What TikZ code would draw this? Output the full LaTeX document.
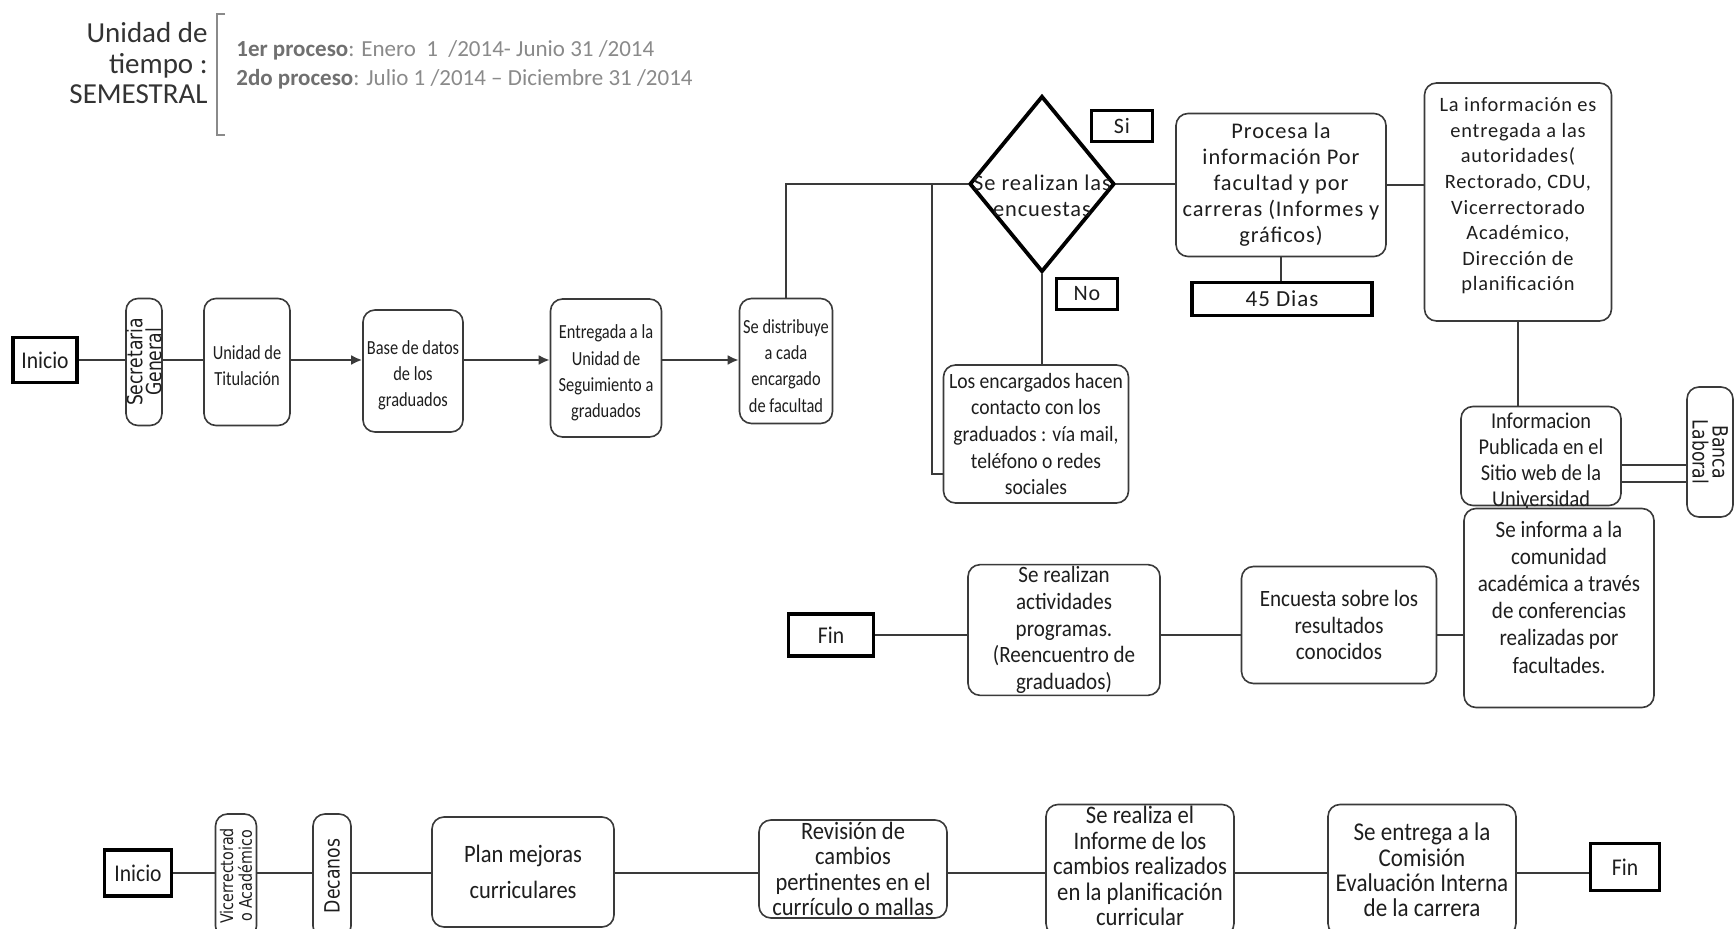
\documentclass[tikz,border=0pt]{standalone}
\usepackage{fontspec}
\setmainfont{Carlito}
\newfontfamily\cf[FakeStretch=0.9]{Carlito}
\newfontfamily\nf[FakeStretch=0.82]{Carlito}
\newfontfamily\wf[LetterSpace=4]{Carlito}
\newfontfamily\dvc[FakeStretch=0.82]{DejaVu Sans}
\usetikzlibrary{shapes.geometric,arrows.meta}
\definecolor{bc}{HTML}{3A3A3A}
\definecolor{tc}{HTML}{1E1E1E}
\definecolor{gc}{HTML}{8A8A8A}
\definecolor{gd}{HTML}{707070}
\definecolor{hc}{HTML}{333333}
\begin{document}
\begin{tikzpicture}[x=0.5pt,y=-0.5pt,
  rb/.style={draw=bc, line width=0.8pt, rounded corners=6pt, align=center, inner sep=1pt, text=tc},
  tb/.style={draw=black, line width=1.9pt, align=center, inner sep=1pt, text=tc},
  wh/.style 2 args={minimum width=#1*0.5pt, minimum height=#2*0.5pt},
  ln/.style={draw=bc, line width=0.8pt},
  ar/.style={draw=bc, line width=1.1pt, -{Latex[length=5.5pt,width=5pt]}},
  ftc/.style={font=\cf\fontsize{#1}{13.3}\selectfont},
  ftw/.style={font=\wf\fontsize{#1}{13}\selectfont},
  txt/.style={align=center, text=tc, inner sep=0},
  hd/.style={text=hc, inner sep=0, font=\fontsize{14.5}{16}\selectfont, anchor=base east},
  pr/.style={text=gc, inner sep=0, font=\fontsize{11.5}{14}\selectfont, anchor=base west},
  r1/.style={font=\nf\fontsize{10}{13.1}\selectfont},
]
\fill[white] (0,0) rectangle (1735,929);
\useasboundingbox (0,0) rectangle (1735,929);

% ---------- header ----------
\node[hd] (u1) at (208,43) {Unidad de};
\node[hd] (u2) at (208,74) {tiempo :};
\node[hd] (u3) at (208,104) {SEMESTRAL};
\draw[gc, line width=0.8pt] (225,14) -- (217,14) -- (217,135) -- (225,135);
\node[pr] (p1) at (236,57) {\textcolor{gd}{\textbf{1er proceso}}: Enero\ \ 1\ \ /2014- Junio 31 /2014};
\node[pr] (p2) at (236,86) {\textcolor{gd}{\textbf{2do proceso}}: Julio 1 /2014 – Diciembre 31 /2014};

% ---------- row 1 ----------
\node[tb, wh={64}{45}, ftc=12] (ini1) at (45,360) {Inicio};
\node[rb, rotate=90, wh={127}{36}, font=\dvc\fontsize{10.5}{9.5}\selectfont, inner sep=0] (sec) at (144,362) {Secretaria\\General};
\node[rb, wh={86}{127}] (uni) at (247,362) {};
\node[txt, r1] (unit) at (247,366) {Unidad de\\Titulación};
\node[rb, wh={100}{122}] (base) at (413,371) {};
\node[txt, r1] (baset) at (413,375) {Base de datos\\de los\\graduados};
\node[rb, wh={111}{138}] (ent) at (606,368) {};
\node[txt, r1] (entt) at (606,373) {Entregada a la\\Unidad de\\Seguimiento a\\graduados};
\node[rb, wh={93}{125}] (dist) at (786,361) {};
\node[txt, r1] (distt) at (786,366) {Se distribuye\\a cada\\encargado\\de facultad};

\draw[ln] (ini1.east) -- (ini1.east -| sec.north);
\draw[ln] (sec.south |- ini1.east) -- (ini1.east -| uni.west);
\draw[ar] (uni.east |- ini1.east) -- (ini1.east -| base.west);
\draw[ar] (base.east |- ini1.east) -- (ini1.east -| ent.west);
\draw[ar] (ent.east |- ini1.east) -- (ini1.east -| dist.west);

% decision
\node[diamond, draw=black, line width=1.9pt, inner sep=0, wh={145}{176}] (dec) at (1042,184) {};
\node[txt, ftw=11.2] (dect) at (1042,196) {Se realizan las\\encuestas};
\node[tb, wh={61}{31}, ftw=11] (si) at (1122,126) {Si};
\node[tb, wh={61}{31}, ftw=11] (no) at (1087,294) {No};
\coordinate (j) at (932,184);
\draw[ln] (dist.north) -- (dist.north |- dec.west) -- (dec.west);

\node[rb, wh={185}{138}, ftc=10.9] (enc) at (1036,434) {Los encargados hacen\\contacto con los\\graduados : vía mail,\\teléfono o redes\\sociales};
\draw[ln] (j) |- ([yshift=-20pt]enc.west);
\draw[ln] (dec.south) -- (dec.south |- enc.north);

\node[rb, wh={210}{143}, ftw=11.2] (pro) at (1281,185) {Procesa la\\información Por\\facultad y por\\carreras (Informes y\\gráficos)};
\draw[ln] (dec.east) -- (dec.east -| pro.west);
\node[tb, wh={180}{33}, ftw=11.5] (d45) at (1282,299) {45 Dias};
\draw[ln] (pro.south) -- (pro.south |- d45.north);

\node[rb, wh={187}{238}] (inf) at (1518,202) {};
\node[txt, font=\wf\fontsize{10.2}{12.8}\selectfont] (inft) at (1518,196) {La información es\\entregada a las\\autoridades(\\Rectorado, CDU,\\Vicerrectorado\\Académico,\\Dirección de\\planificación};
\draw[ln] (pro.east) -- (pro.east -| inf.west);

\node[rb, wh={160}{99}] (pub) at (1541,456) {};
\node[txt, font=\cf\fontsize{11.3}{12.9}\selectfont] (pubt) at (1541,460) {Informacion\\Publicada en el\\Sitio web de la\\Universidad};
\draw[ln] (inf.south) -- (inf.south |- pub.north);
\node[rb, rotate=-90, wh={130}{46}, font=\dvc\fontsize{10.5}{10}\selectfont, inner sep=0] (ban) at (1710,452) {Banca\\Laboral};
\draw[ln] ([yshift=-4.5pt]pub.east) -- ([yshift=-4.5pt]pub.east -| ban.south);
\draw[ln] ([yshift=-13pt]pub.east) -- ([yshift=-13pt]pub.east -| ban.south);

\node[rb, wh={190}{199}] (sei) at (1559,608) {};
\node[txt, font=\cf\fontsize{11.7}{13.6}\selectfont] (seit) at (1559,597) {Se informa a la\\comunidad\\académica a través\\de conferencias\\realizadas por\\facultades.};
\draw[ln] ([xshift=-7pt]pub.south) -- ([xshift=-7pt]pub.south |- sei.north);
\node[rb, wh={195}{117}, ftc=11.7] (encu) at (1339,625) {Encuesta sobre los\\resultados\\conocidos};
\node[rb, wh={192}{127}, ftc=11.7] (act) at (1064,630) {Se realizan\\actividades\\programas.\\(Reencuentro de\\graduados)};
\node[tb, wh={85}{42}, ftc=12] (fin1) at (831,635) {Fin};
\draw[ln] (sei.west |- fin1.east) -- (fin1.east -| encu.east);
\draw[ln] (encu.west |- fin1.east) -- (fin1.east -| act.east);
\draw[ln] (act.west |- fin1.east) -- (fin1.east);

% ---------- row 3 ----------
\node[tb, wh={67}{46}, ftc=12] (ini2) at (138,873) {Inicio};
\node[rb, rotate=90, wh={124}{41}, font=\dvc\fontsize{8.7}{9.3}\selectfont, inner sep=0] (vic) at (236,876) {Vicerrectorad\\o Académico};
\node[rb, rotate=90, wh={124}{38}, font=\dvc\fontsize{10.5}{10}\selectfont, inner sep=0] (deca) at (332,876) {Decanos};
\node[rb, wh={182}{110}, font=\cf\fontsize{12.5}{18}\selectfont] (plan) at (523,872) {Plan mejoras\\curriculares};
\node[rb, wh={188}{98}, font=\cf\fontsize{12.5}{12.6}\selectfont] (rev) at (853,869) {Revisión de\\cambios\\pertinentes en el\\currículo o mallas};
\node[rb, wh={188}{131}] (infm) at (1140,870) {};
\node[txt, font=\cf\fontsize{12.6}{12.7}\selectfont] (infmt) at (1140,866) {Se realiza el\\Informe de los\\cambios realizados\\en la planificación\\curricular};
\node[rb, wh={188}{131}, font=\cf\fontsize{12.8}{12.7}\selectfont] (ent2) at (1422,870) {Se entrega a la\\Comisión\\Evaluación Interna\\de la carrera};
\node[tb, wh={69}{47}, ftc=12] (fin2) at (1625,867) {Fin};

\draw[ln] (ini2.east) -- (ini2.east -| vic.north);
\draw[ln] (vic.south |- ini2.east) -- (ini2.east -| deca.north);
\draw[ln] (deca.south |- ini2.east) -- (ini2.east -| plan.west);
\draw[ln] (plan.east |- ini2.east) -- (ini2.east -| rev.west);
\draw[ln] (rev.east |- ini2.east) -- (ini2.east -| infm.west);
\draw[ln] (infm.east |- ini2.east) -- (ini2.east -| ent2.west);
\draw[ln] (ent2.east |- ini2.east) -- (ini2.east -| fin2.west);
\end{tikzpicture}
\end{document}
